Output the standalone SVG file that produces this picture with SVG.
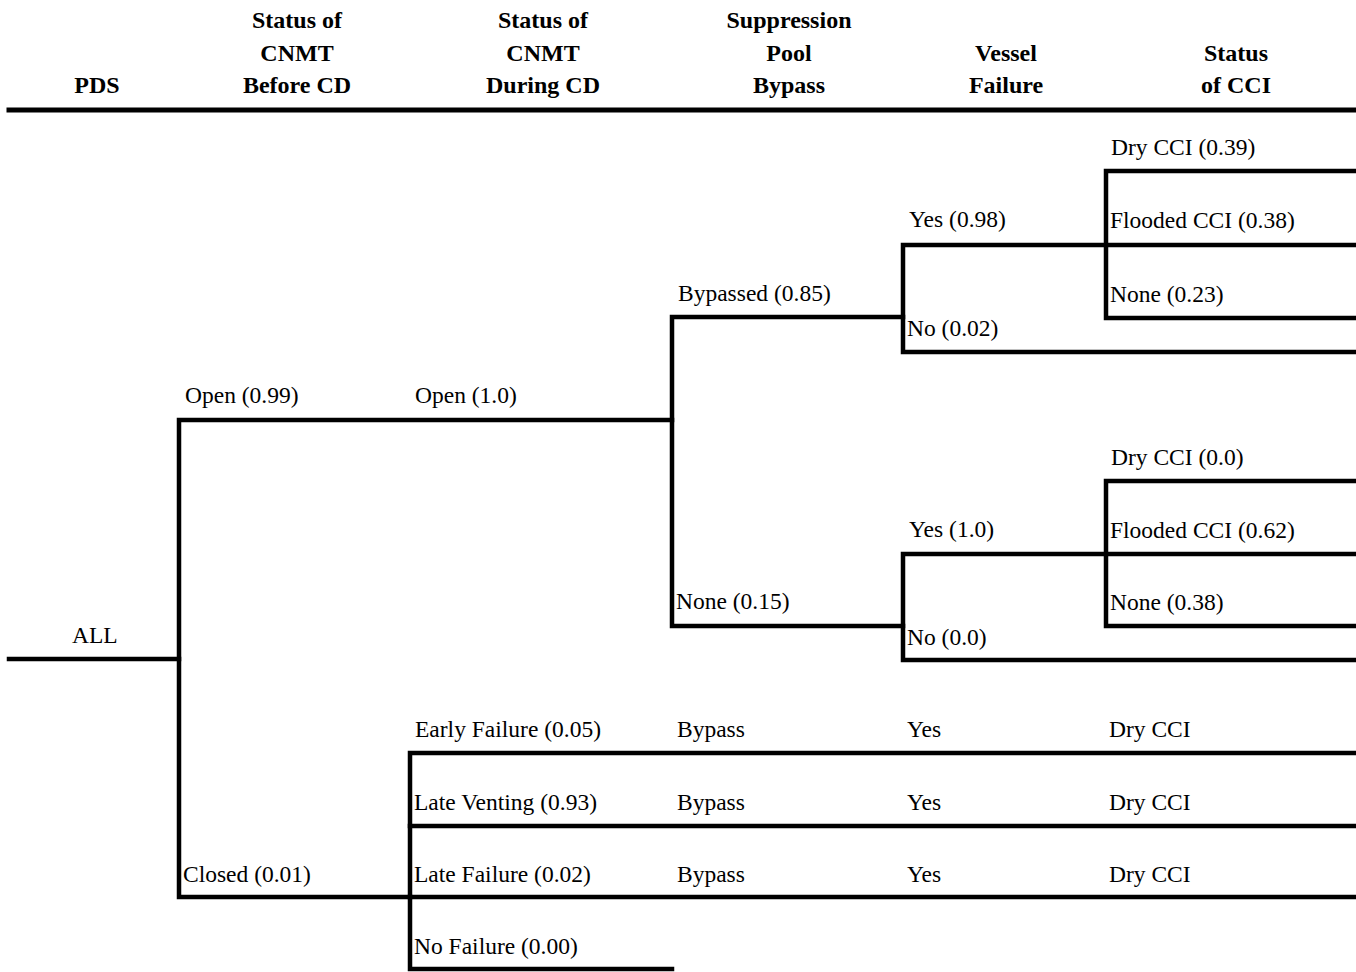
<svg xmlns="http://www.w3.org/2000/svg" width="1356" height="972" viewBox="0 0 1356 972">
<style>
.h{font-family:"Liberation Serif","Times New Roman",serif;font-weight:bold;font-size:24px;text-anchor:middle;fill:#000}
.t{font-family:"Liberation Serif","Times New Roman",serif;font-size:23.5px;fill:#000}
.ln{stroke:#000;stroke-width:4.5;fill:none;stroke-linecap:square}
</style>
<rect width="1356" height="972" fill="#fff"/>
<g id="header">
<text class="h" x="297" y="28">Status of</text>
<text class="h" x="297" y="61">CNMT</text>
<text class="h" x="297" y="93">Before CD</text>
<text class="h" x="97" y="93">PDS</text>
<text class="h" x="543" y="28">Status of</text>
<text class="h" x="543" y="61">CNMT</text>
<text class="h" x="543" y="93">During CD</text>
<text class="h" x="789" y="28">Suppression</text>
<text class="h" x="789" y="61">Pool</text>
<text class="h" x="789" y="93">Bypass</text>
<text class="h" x="1006" y="61">Vessel</text>
<text class="h" x="1006" y="93">Failure</text>
<text class="h" x="1236" y="61">Status</text>
<text class="h" x="1236" y="93">of CCI</text>
<line class="ln" x1="9" y1="110" x2="1356" y2="110" style="stroke-width:5"/>
</g>
<g id="connectors">
<polyline class="ln" points="9,659 179,659"/>
<polyline class="ln" points="672,420 179,420 179,897 410,897"/>
<polyline class="ln" points="903,317 672,317 672,626 903,626"/>
<polyline class="ln" points="1356,245 903,245 903,352 1356,352"/>
<polyline class="ln" points="1356,171 1106,171 1106,318 1356,318"/>
<polyline class="ln" points="1356,554 903,554 903,660 1356,660"/>
<polyline class="ln" points="1356,481 1106,481 1106,626 1356,626"/>
<polyline class="ln" points="1356,753 410,753 410,969 672,969"/>
<polyline class="ln" points="410,826 1356,826"/>
<polyline class="ln" points="410,897 1356,897"/>
</g>
<g id="node-all"><text class="t" x="72" y="643">ALL</text></g>
<g id="node-open099"><text class="t" x="185" y="403">Open (0.99)</text></g>
<g id="node-closed"><text class="t" x="183" y="882">Closed (0.01)</text></g>
<g id="node-open10"><text class="t" x="415" y="403">Open (1.0)</text></g>
<g id="node-bypassed"><text class="t" x="678" y="301">Bypassed (0.85)</text></g>
<g id="node-none015"><text class="t" x="676" y="609">None (0.15)</text></g>
<g id="node-yes098"><text class="t" x="909" y="227">Yes (0.98)</text></g>
<g id="node-no002"><text class="t" x="907" y="336">No (0.02)</text></g>
<g id="node-dry039"><text class="t" x="1111" y="155">Dry CCI (0.39)</text></g>
<g id="node-flood038"><text class="t" x="1110" y="228">Flooded CCI (0.38)</text></g>
<g id="node-none023"><text class="t" x="1110" y="302">None (0.23)</text></g>
<g id="node-yes10"><text class="t" x="909" y="537">Yes (1.0)</text></g>
<g id="node-no00"><text class="t" x="907" y="645">No (0.0)</text></g>
<g id="node-dry00"><text class="t" x="1111" y="465">Dry CCI (0.0)</text></g>
<g id="node-flood062"><text class="t" x="1110" y="538">Flooded CCI (0.62)</text></g>
<g id="node-none038"><text class="t" x="1110" y="610">None (0.38)</text></g>
<g id="node-early"><text class="t" x="415" y="737">Early Failure (0.05)</text><text class="t" x="677" y="737">Bypass</text><text class="t" x="907" y="737">Yes</text><text class="t" x="1109" y="737">Dry CCI</text></g>
<g id="node-venting"><text class="t" x="414" y="810">Late Venting (0.93)</text><text class="t" x="677" y="810">Bypass</text><text class="t" x="907" y="810">Yes</text><text class="t" x="1109" y="810">Dry CCI</text></g>
<g id="node-latefail"><text class="t" x="414" y="882">Late Failure (0.02)</text><text class="t" x="677" y="882">Bypass</text><text class="t" x="907" y="882">Yes</text><text class="t" x="1109" y="882">Dry CCI</text></g>
<g id="node-nofail"><text class="t" x="414" y="954">No Failure (0.00)</text></g>
</svg>
